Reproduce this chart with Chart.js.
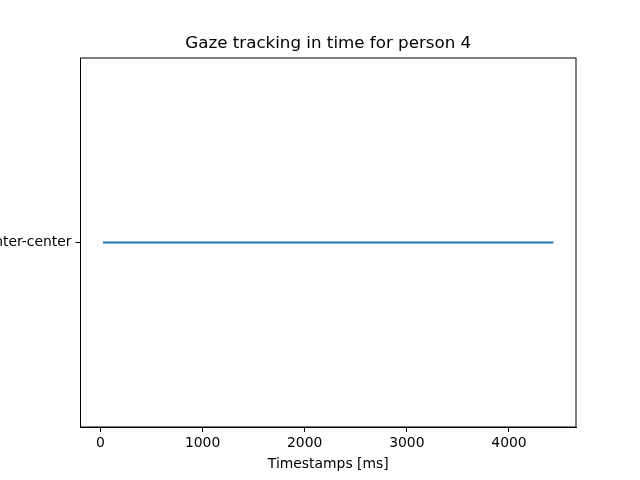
<!DOCTYPE html>
<html>
<head>
<meta charset="utf-8">
<script src="https://cdn.jsdelivr.net/npm/chart.js@4.4.0/dist/chart.umd.min.js"></script>
<style>
  html, body { margin: 0; padding: 0; background: #fff; }
  canvas { display: block; }
</style>
</head>
<body>
<canvas id="gazeChart" width="640" height="480"></canvas>
<script>
// gaze samples for person 4 (timestamp in ms, gaze region)
const timestamps = [25, 4435];
const gazeRegions = ['center-center', 'center-center'];
const regionLabels = ['center-center'];
const xTicks = [0, 1000, 2000, 3000, 4000];

const chartTitle = 'Gaze tracking in time for person 4';
const xTitle = 'Timestamps [ms]';

const FONT = 'DejaVu Sans';

const framePlugin = {
    id: 'frame',
    afterDraw(chart) {
        const { ctx, chartArea: a } = chart;
        ctx.save();
        ctx.strokeStyle = '#000';
        ctx.lineWidth = 1;
        ctx.strokeRect(a.left, a.top, a.right - a.left, a.bottom - a.top);
        ctx.fillStyle = '#000';
        ctx.font = `16.7px "${FONT}"`;
        ctx.textAlign = 'center';
        ctx.textBaseline = 'middle';
        ctx.fillText(chartTitle, (a.left + a.right) / 2, 44);
        ctx.restore();
    }
};

const points = timestamps.map((t, i) => ({ x: t, y: regionLabels.indexOf(gazeRegions[i]) }));

new Chart(document.getElementById('gazeChart').getContext('2d'), {
    type: 'line',
    data: {
        datasets: [{
            data: points,
            borderColor: '#1f77b4',
            borderWidth: 2,
            pointRadius: 0,
            fill: false,
            tension: 0
        }]
    },
    options: {
        responsive: false,
        animation: false,
        devicePixelRatio: 1,
        layout: { padding: { left: 0, right: 64, top: 58, bottom: 0 } },
        plugins: {
            legend: { display: false },
            title: { display: false },
            tooltip: { enabled: false }
        },
        scales: {
            x: {
                type: 'linear',
                min: -195,
                max: 4656,
                afterBuildTicks: s => { s.ticks = xTicks.map(v => ({ value: v })); },
                afterFit: s => { s.height = 53; },
                grid: { drawOnChartArea: false, drawTicks: true, tickLength: 5, color: '#000' },
                border: { display: true, color: '#000' },
                ticks: {
                    color: '#000',
                    padding: 3,
                    maxRotation: 0,
                    font: { family: FONT, size: 13.9 },
                    callback: v => String(v)
                },
                title: {
                    display: true,
                    text: xTitle,
                    color: '#000',
                    font: { family: FONT, size: 13.9 },
                    padding: { top: 0, bottom: 7 }
                }
            },
            y: {
                type: 'linear',
                min: -1,
                max: 1,
                afterBuildTicks: s => { s.ticks = regionLabels.map((_, i) => ({ value: i })); },
                afterFit: s => { s.width = 80.5; },
                grid: { drawOnChartArea: false, drawTicks: true, tickLength: 5, color: '#000' },
                border: { display: true, color: '#000' },
                ticks: {
                    color: '#000',
                    padding: 4,
                    font: { family: FONT, size: 13.9 },
                    callback: v => regionLabels[v] ?? ''
                }
            }
        }
    },
    plugins: [framePlugin]
});
</script>
</body>
</html>
